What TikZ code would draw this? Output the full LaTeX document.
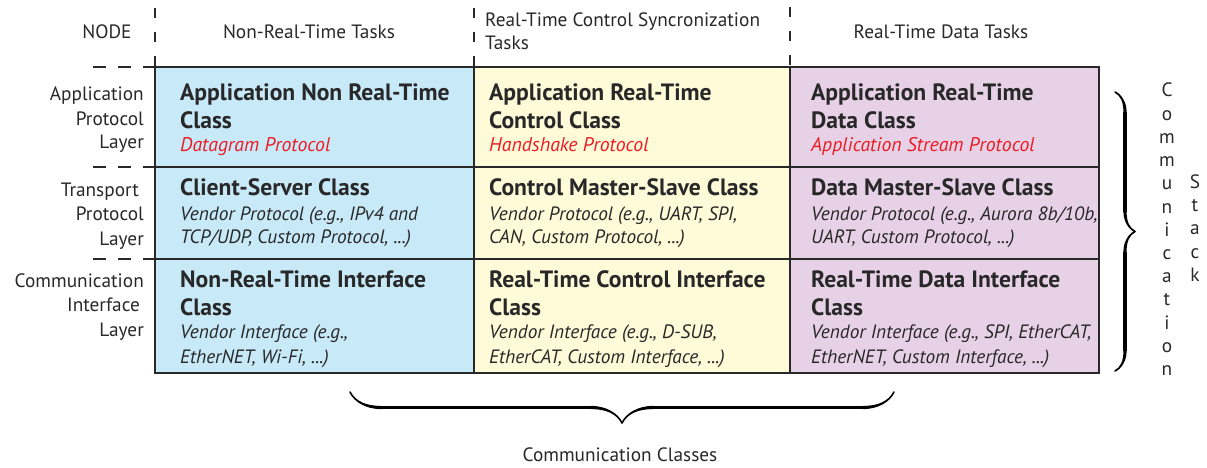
\documentclass[tikz,border=0pt]{standalone}
\usepackage{fontspec}
\setmainfont{PT Sans}
\usetikzlibrary{decorations.pathreplacing,calligraphy}
\definecolor{cblue}{RGB}{200,233,248}
\definecolor{cyellow}{RGB}{255,250,216}
\definecolor{cpurple}{RGB}{230,209,230}
\definecolor{cred}{RGB}{237,28,36}
\definecolor{cline}{RGB}{40,40,40}
\begin{document}
\begin{tikzpicture}[x=1pt,y=-1pt,
  hdr/.style={font=\fontsize{19.3}{24}\selectfont, text=cline, inner sep=0pt},
  ttl/.style={font=\bfseries\fontsize{23.6}{28}\selectfont, text=cline, inner sep=0pt, anchor=base west},
  sub/.style={font=\itshape\fontsize{19.3}{24}\selectfont, text=cline, inner sep=0pt, anchor=base west},
  proto/.style={font=\itshape\fontsize{19.8}{24}\selectfont, text=cred, inner sep=0pt, anchor=base west},
  lbl/.style={hdr, anchor=base east},
  vl/.style={hdr, anchor=base},
  frame/.style={draw=cline, line width=1.8pt},
  dsh/.style={draw=cline, line width=1.6pt, dash pattern=on 10pt off 14pt},
  hdsh/.style={draw=cline, line width=1.6pt, dash pattern=on 13pt off 12pt},
  brc/.style={decorate, decoration={calligraphic brace, amplitude=#1}, line width=3.2pt, draw=cline}
]
\useasboundingbox (0,0) rectangle (1207,468);
% fills
\fill[cblue] (155,67) rectangle (474,373);
\fill[cyellow] (474,67) rectangle (790,373);
\fill[cpurple] (790,67) rectangle (1099,373);
% grid
\coordinate (tl) at (155,67);
\coordinate (br) at (1099,373);
\draw[frame] (tl) rectangle (br);
\coordinate (v1t) at (474,67); \coordinate (v1b) at (474,373);
\coordinate (v2t) at (790,67); \coordinate (v2b) at (790,373);
\coordinate (h1l) at (155,167); \coordinate (h1r) at (1099,167);
\coordinate (h2l) at (155,259); \coordinate (h2r) at (1099,259);
\draw[frame] (v1t) -- (v1b) (v2t) -- (v2b) (h1l) -- (h1r) (h2l) -- (h2r);
% dashed extensions
\coordinate (d0) at (155,8); \coordinate (d1) at (474,8); \coordinate (d2) at (790,7);
\draw[dsh] (d0) -- (tl);
\draw[dsh] (d1) -- (v1t);
\draw[dsh] (d2) -- (v2t);
\coordinate (e0) at (93,67); \coordinate (e1) at (93,167); \coordinate (e2) at (93,259);
\draw[hdsh] (e0) -- (tl);
\draw[hdsh] (e1) -- (h1l);
\draw[hdsh] (e2) -- (h2l);
% headers
\node[hdr, anchor=base] (hNode) at (107,39) {NODE};
\node[hdr, anchor=base] (hNRT) at (309,39) {Non-Real-Time Tasks};
\node[hdr, anchor=base west] (hRTCa) at (485,26.7) {Real-Time Control Syncronization};
\node[hdr, anchor=base west] (hRTCb) at (485,49.3) {Tasks};
\node[hdr, anchor=base] (hRTD) at (941,39) {Real-Time Data Tasks};
% left labels
\node[lbl] (la1) at (144,101) {Application};
\node[lbl] (la2) at (144,125) {Protocol};
\node[lbl] (la3) at (144,148.5) {Layer};
\node[lbl] (lb1) at (139,196) {Transport};
\node[lbl] (lb2) at (144,220.5) {Protocol};
\node[lbl] (lb3) at (144,245) {Layer};
\node[lbl] (lc1) at (144,287) {Communication};
\node[lbl] (lc2) at (140,311.5) {Interface};
\node[lbl] (lc3) at (144,336.5) {Layer};
% column 1
\node[ttl] (a11) at (180,101) {Application Non Real-Time};
\node[ttl] (a12) at (180,128.5) {Class};
\node[proto] (a13) at (180,152) {Datagram Protocol};
\node[ttl] (b11) at (180,195) {Client-Server Class};
\node[sub] (b12) at (180,220) {Vendor Protocol (e.g., IPv4 and};
\node[sub] (b13) at (180,243.5) {TCP/UDP, Custom Protocol, ...)};
\node[ttl] (c11) at (180,287) {Non-Real-Time Interface};
\node[ttl] (c12) at (180,315) {Class};
\node[sub] (c13) at (180,338.5) {Vendor Interface (e.g.,};
\node[sub] (c14) at (180,363.5) {EtherNET, Wi-Fi, ...)};
% column 2
\node[ttl] (a21) at (489,101) {Application Real-Time};
\node[ttl] (a22) at (489,128.5) {Control Class};
\node[proto] (a23) at (489,152) {Handshake Protocol};
\node[ttl] (b21) at (489,195) {Control Master-Slave Class};
\node[sub] (b22) at (489,220) {Vendor Protocol (e.g., UART, SPI,};
\node[sub] (b23) at (489,243.5) {CAN, Custom Protocol, ...)};
\node[ttl] (c21) at (489,287) {Real-Time Control Interface};
\node[ttl] (c22) at (489,315) {Class};
\node[sub] (c23) at (489,338.5) {Vendor Interface (e.g., D-SUB,};
\node[sub] (c24) at (489,363.5) {EtherCAT, Custom Interface, ...)};
% column 3
\node[ttl] (a31) at (811,101) {Application Real-Time};
\node[ttl] (a32) at (811,128.5) {Data Class};
\node[proto] (a33) at (811,152) {Application Stream Protocol};
\node[ttl] (b31) at (811,195) {Data Master-Slave Class};
\node[sub] (b32) at (811,220) {Vendor Protocol (e.g., Aurora 8b/10b,};
\node[sub] (b33) at (811,243.5) {UART, Custom Protocol, ...)};
\node[ttl] (c31) at (811,287) {Real-Time Data Interface};
\node[ttl] (c32) at (811,315) {Class};
\node[sub] (c33) at (811,338.5) {Vendor Interface (e.g., SPI, EtherCAT,};
\node[sub] (c34) at (811,363.5) {EtherNET, Custom Interface, ...)};
% braces
\coordinate (rbt) at (1115,92); \coordinate (rbb) at (1115,371);
\draw[brc=20pt] (rbt) -- (rbb);
\coordinate (bbr) at (894,392); \coordinate (bbl) at (350,392);
\draw[brc=31pt] (bbr) -- (bbl);
% vertical words
\foreach \ch [count=\i from 0] in {C,o,m,m,u,n,i,c,a,t,i,o,n}
  \node[vl] (cs\i) at (1167,97+23.2*\i) {\ch};
\foreach \ch [count=\i from 0] in {S,t,a,c,k}
  \node[vl] (st\i) at (1195,188+23.4*\i) {\ch};
\node[hdr, anchor=base] (cc) at (620,461) {Communication Classes};
\end{tikzpicture}
\end{document}
